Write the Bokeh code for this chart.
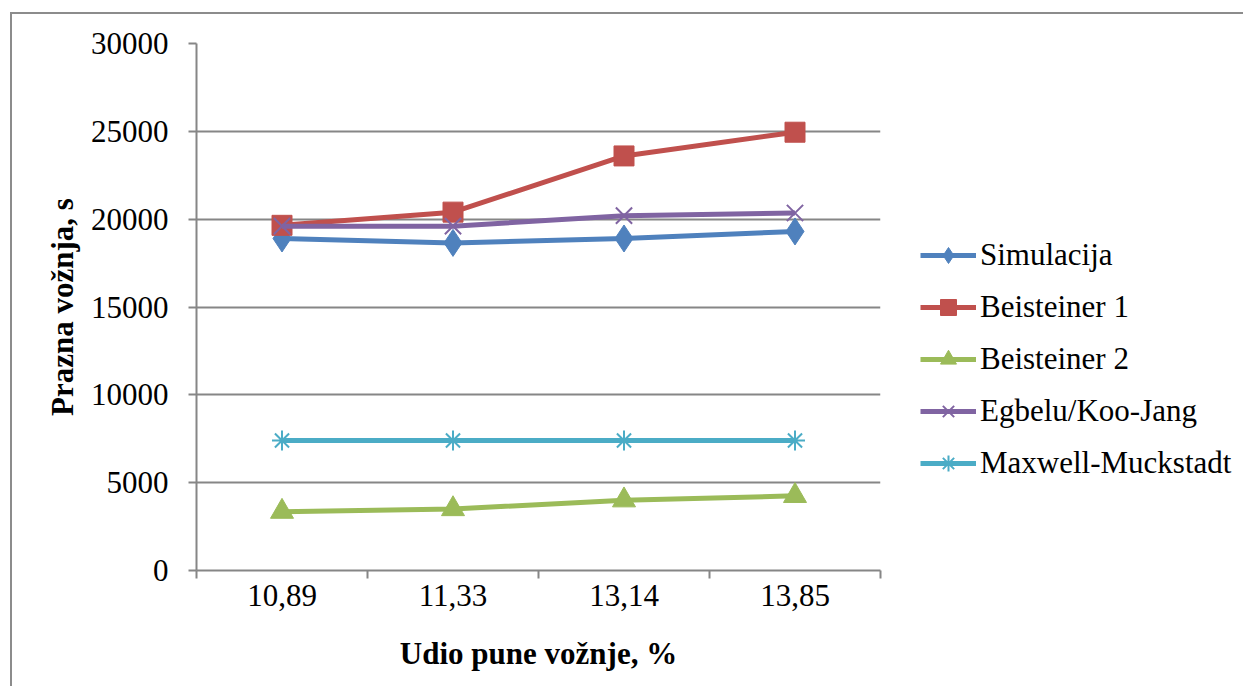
from bokeh.plotting import figure
from bokeh.models import FixedTicker, Legend, LegendItem, Range1d
from bokeh.embed import file_html
from bokeh.resources import INLINE

categories = ["10,89", "11,33", "13,14", "13,85"]
simulacija = [18900, 18650, 18900, 19300]
beisteiner1 = [19650, 20400, 23600, 24950]
beisteiner2 = [3350, 3500, 4000, 4250]
egbelu = [19600, 19600, 20200, 20350]
maxwell = [7400, 7400, 7400, 7400]
y_ticks = [0, 5000, 10000, 15000, 20000, 25000, 30000]

series = [
    ("Simulacija", simulacija, "#4F81BD", "diamond", 27),
    ("Beisteiner 1", beisteiner1, "#C0504D", "square", 20),
    ("Beisteiner 2", beisteiner2, "#9BBB59", "triangle", 23),
    ("Egbelu/Koo-Jang", egbelu, "#8064A2", "x", 23),
    ("Maxwell-Muckstadt", maxwell, "#4BACC6", "asterisk", 20),
]

xs = [i + 0.5 for i in range(len(categories))]

FONT = "Liberation Serif"
GRAY = "#868686"

p = figure(
    frame_width=684, frame_height=527,
    min_border_left=184, min_border_top=29, min_border_bottom=116, min_border_right=355,
    x_range=Range1d(0, len(categories)), y_range=Range1d(0, 30000),
    output_backend="svg", toolbar_location=None,
    styles={"border-left": "2px solid #8c8c8c", "border-top": "2px solid #8c8c8c",
            "margin-left": "10px", "margin-top": "12px"},
)
p.outline_line_color = None
p.background_fill_color = "white"
p.border_fill_color = "white"

# x axis
p.xaxis.ticker = FixedTicker(ticks=xs, minor_ticks=list(range(len(categories) + 1)))
p.xaxis.major_label_overrides = {x: c for x, c in zip(xs, categories)}
p.xaxis.major_tick_line_color = None
p.xaxis.minor_tick_line_color = GRAY
p.xaxis.minor_tick_line_width = 2
p.xaxis.minor_tick_in = 0
p.xaxis.minor_tick_out = 8
p.xaxis.axis_line_color = GRAY
p.xaxis.axis_line_width = 2
p.xaxis.major_label_text_font = FONT
p.xaxis.major_label_text_font_size = "31px"
p.xaxis.major_label_text_color = "black"
p.xaxis.major_label_standoff = 6
p.xaxis.axis_label = "Udio pune vožnje, %"
p.xaxis.axis_label_text_font = FONT
p.xaxis.axis_label_text_font_style = "bold"
p.xaxis.axis_label_text_font_size = "31px"
p.xaxis.axis_label_text_color = "black"
p.xaxis.axis_label_standoff = 27

# y axis
p.yaxis.ticker = FixedTicker(ticks=y_ticks, minor_ticks=[])
p.yaxis.major_tick_line_color = GRAY
p.yaxis.major_tick_line_width = 2
p.yaxis.major_tick_in = 0
p.yaxis.major_tick_out = 8
p.yaxis.axis_line_color = GRAY
p.yaxis.axis_line_width = 2
p.yaxis.major_label_text_font = FONT
p.yaxis.major_label_text_font_size = "31px"
p.yaxis.major_label_text_color = "black"
p.yaxis.major_label_standoff = 20
p.yaxis.axis_label = "Prazna vožnja, s"
p.yaxis.axis_label_text_font = FONT
p.yaxis.axis_label_text_font_style = "bold"
p.yaxis.axis_label_text_font_size = "31px"
p.yaxis.axis_label_text_color = "black"
p.yaxis.axis_label_standoff = 8

p.xgrid.grid_line_color = None
p.ygrid.ticker = FixedTicker(ticks=y_ticks[1:])
p.ygrid.grid_line_color = GRAY
p.ygrid.grid_line_width = 2

items = []
for name, vals, color, marker, size in series:
    lr = p.line(xs, vals, line_color=color, line_width=5)
    if marker in ("x", "asterisk"):
        sr = p.scatter(xs, vals, marker=marker, size=size, line_color=color,
                       line_width=2, fill_color=None)
    else:
        sr = p.scatter(xs, vals, marker=marker, size=size, line_color=color,
                       fill_color=color, line_width=1)
    items.append(LegendItem(label=name, renderers=[lr, sr]))

legend = Legend(
    items=items, location=(40, 87), orientation="vertical",
    padding=0, margin=0, spacing=12, border_line_color=None,
    background_fill_alpha=0, glyph_width=56, glyph_height=40, label_height=40,
    label_standoff=4, label_text_font=FONT, label_text_font_size="31px",
    label_text_color="black",
)
p.add_layout(legend, "right")

open("out.html", "w").write(file_html(p, INLINE))
